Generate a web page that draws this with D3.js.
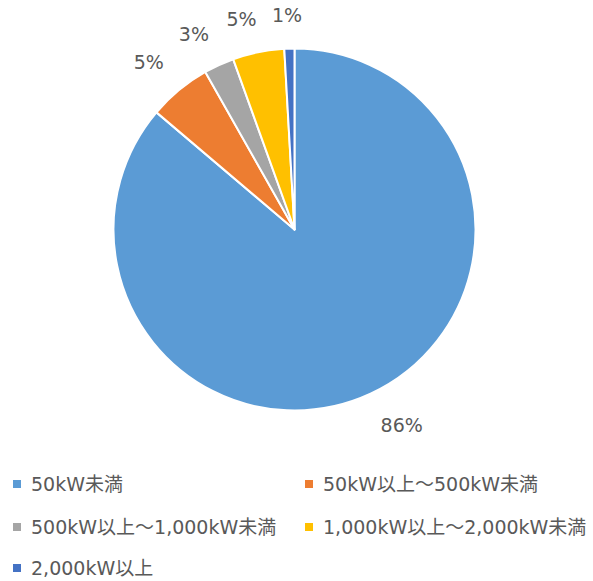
<!DOCTYPE html>
<html><head><meta charset="utf-8">
<script src="https://cdn.jsdelivr.net/npm/d3@7"></script>
<style>
html,body{margin:0;padding:0;background:#fff;}
text{font-family:"DejaVu Sans","Noto Sans CJK JP",sans-serif;fill:#595959;}
</style></head>
<body>
<svg id="chart" width="593" height="581"></svg>
<script>
const categories = ["50kW未満","50kW以上～500kW未満","500kW以上～1,000kW未満","1,000kW以上～2,000kW未満","2,000kW以上"];
const values = [86.2, 5.6, 2.7, 4.6, 0.9];
const labels = ["86%","5%","3%","5%","1%"];
const colors = ["#5B9BD5","#ED7D31","#A5A5A5","#FFC000","#4472C4"];

const svg = d3.select("#chart");
const cx = 294.5, cy = 229.5, R = 181;
const g = svg.append("g").attr("transform",`translate(${cx},${cy})`);

const pie = d3.pie().sort(null).value(d=>d.v).startAngle(0).endAngle(2*Math.PI);
const data = pie(values.map((v,i)=>({v,i})));
const arc = d3.arc().innerRadius(0).outerRadius(R);

g.selectAll("path").data(data).join("path")
  .attr("d",arc)
  .attr("fill",d=>colors[d.data.i])
  .attr("stroke","#fff").attr("stroke-width",2).attr("stroke-linejoin","round");

const clamp = v => Math.max(-1, Math.min(1, v));
const rl = R + 24, lh = 19;
g.selectAll("text.lbl").data(data).join("text")
  .attr("class","lbl")
  .attr("font-size",19)
  .attr("text-anchor","middle")
  .attr("dominant-baseline","central")
  .text(d=>labels[d.data.i])
  .each(function(d){
    const a=(d.startAngle+d.endAngle)/2;
    const w=this.getComputedTextLength();
    const x = rl*Math.sin(a) + clamp(4*Math.sin(a))*w/2;
    const y = -rl*Math.cos(a) + clamp(-4*Math.cos(a))*lh/2;
    d3.select(this).attr("x",x).attr("y",y);
  });

// legend
const legX = [13, 305], legY = [484, 527, 568];
const leg = svg.append("g");
const items = leg.selectAll("g").data(categories).join("g")
  .attr("transform",(d,i)=>`translate(${legX[i%2]},${legY[Math.floor(i/2)]})`);
items.append("rect").attr("x",0).attr("y",-4).attr("width",8).attr("height",8)
  .attr("fill",(d,i)=>colors[i]);
items.append("text").attr("x",18).attr("y",0).attr("font-size",19)
  .attr("dominant-baseline","central").text(d=>d);
</script>
</body></html>
